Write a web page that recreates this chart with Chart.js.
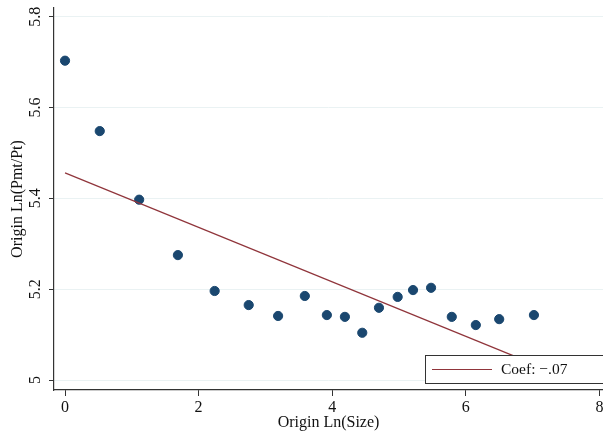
<!DOCTYPE html>
<html>
<head>
<meta charset="utf-8">
<script src="https://cdn.jsdelivr.net/npm/chart.js@4/dist/chart.umd.min.js"></script>
<style>
  html, body { margin: 0; padding: 0; background: #fff; }
  #wrap { width: 603px; height: 435px; }
</style>
</head>
<body>
<div id="wrap"><canvas id="myChart" width="603" height="435"></canvas></div>
<script>
// binned scatter values
const lnSize = [0, 0.52, 1.11, 1.69, 2.24, 2.75, 3.19, 3.59, 3.92, 4.19, 4.45, 4.70, 4.98, 5.21, 5.48, 5.79, 6.15, 6.50, 7.02];
const lnPrice = [5.703, 5.548, 5.397, 5.275, 5.196, 5.165, 5.141, 5.185, 5.143, 5.139, 5.104, 5.159, 5.183, 5.198, 5.203, 5.139, 5.121, 5.134, 5.143];

// fitted line end points
const fitX = [0, 7.02];
const fitY = [5.456, 5.035];

const xTicks = [0, 2, 4, 6, 8];
const yTicks = [5, 5.2, 5.4, 5.6, 5.8];
const legendText = 'Coef: \u2212.07';

const navy = '#1a476f';
const maroon = '#90353b';
const serif = 'Liberation Serif, Times New Roman, serif';

const legendBox = {
    id: 'legendBox',
    afterDatasetsDraw(chart) {
        const ctx = chart.ctx;
        ctx.save();
        ctx.fillStyle = '#fff';
        ctx.strokeStyle = '#333';
        ctx.lineWidth = 1;
        ctx.fillRect(425.5, 355.5, 200, 28);
        ctx.strokeRect(425.5, 355.5, 200, 28);
        ctx.strokeStyle = maroon;
        ctx.lineWidth = 1.2;
        ctx.beginPath();
        ctx.moveTo(432, 369.5);
        ctx.lineTo(492, 369.5);
        ctx.stroke();
        ctx.fillStyle = '#111';
        ctx.font = '15.5px ' + serif;
        ctx.textBaseline = 'middle';
        ctx.fillText(legendText, 501, 370);
        ctx.restore();
    }
};

function noPad(s) {
    s.paddingTop = 0;
    s.paddingBottom = 0;
    s.paddingLeft = 0;
    s.paddingRight = 0;
}

const ctx = document.getElementById('myChart').getContext('2d');
const myChart = new Chart(ctx, {
    type: 'scatter',
    data: {
        datasets: [
            {
                label: 'bins',
                data: lnSize.map((x, i) => ({ x: x, y: lnPrice[i] })),
                backgroundColor: navy,
                borderColor: navy,
                pointRadius: 4.6,
                order: 2
            },
            {
                label: 'fit',
                type: 'line',
                data: fitX.map((x, i) => ({ x: x, y: fitY[i] })),
                borderColor: maroon,
                borderWidth: 1.2,
                pointRadius: 0,
                fill: false,
                order: 1
            }
        ]
    },
    options: {
        responsive: false,
        animation: false,
        layout: { autoPadding: false, padding: { top: 8, right: 0, left: 0, bottom: 0 } },
        plugins: {
            legend: { display: false },
            tooltip: { enabled: false }
        },
        scales: {
            x: {
                type: 'linear',
                min: -0.165,
                max: 8.054,
                afterBuildTicks: s => { s.ticks = xTicks.map(v => ({ value: v })); },
                afterFit: s => { s.height = 45; noPad(s); },
                grid: { drawOnChartArea: false, tickLength: 6, tickColor: '#333' },
                border: { color: '#333', width: 1.2 },
                ticks: {
                    color: '#111',
                    font: { family: serif, size: 16 },
                    padding: 2,
                    maxRotation: 0,
                    callback: v => String(v)
                },
                title: {
                    display: true,
                    text: 'Origin Ln(Size)',
                    color: '#111',
                    font: { family: serif, size: 16 },
                    padding: { top: 0, bottom: 3 }
                }
            },
            y: {
                type: 'linear',
                min: 4.978,
                max: 5.819,
                afterBuildTicks: s => { s.ticks = yTicks.map(v => ({ value: v })); },
                afterFit: s => { s.width = 54; noPad(s); },
                grid: { color: '#eaf2f3', lineWidth: 1, tickLength: 5, tickColor: '#333' },
                border: { color: '#333', width: 1.2 },
                ticks: {
                    color: '#111',
                    font: { family: serif, size: 16 },
                    padding: 3,
                    minRotation: 90,
                    maxRotation: 90,
                    crossAlign: 'center',
                    callback: v => String(v)
                },
                title: {
                    display: true,
                    text: 'Origin Ln(Pmt/Pt)',
                    color: '#111',
                    font: { family: serif, size: 16 },
                    padding: { top: 8, bottom: 0 }
                }
            }
        }
    },
    plugins: [legendBox]
});
</script>
</body>
</html>
